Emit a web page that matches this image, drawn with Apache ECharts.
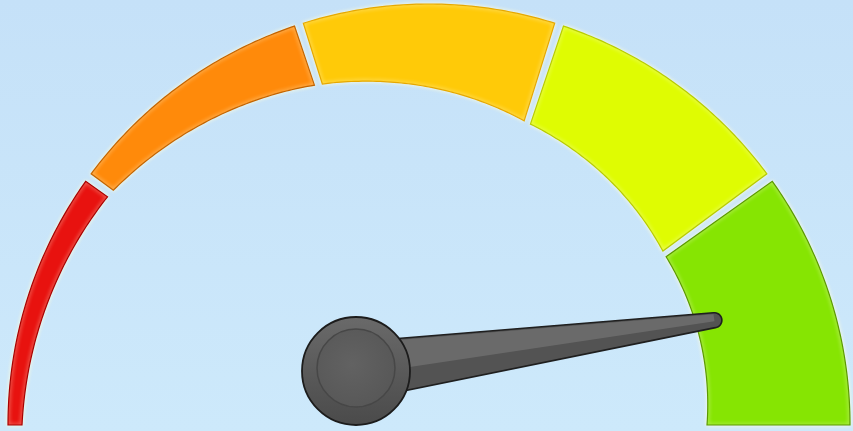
<!DOCTYPE html>
<html>
<head>
<meta charset="utf-8">
<script src="https://cdn.jsdelivr.net/npm/echarts@6/dist/echarts.min.js"></script>
<style>
  html, body { margin: 0; padding: 0; }
  #gauge { width: 853px; height: 431px; }
</style>
</head>
<body>
<div id="gauge"></div>
<script>
// scale data
const bandEdges = [0, 20, 40, 60, 80, 100];
const bandNames = ["red", "orange", "yellow", "lime", "green"];
const needleValue = 88.8;

// look of the dial
const OUTER = 421;                              // outer radius, px
const bandWidths = [14, 27, 63, 103, 130, 143]; // band thickness at each edge
const bandFill = ["#e8120f", "#ff8a0a", "#ffca08", "#dffc02", "#86e502"];
const bandStroke = ["#a80000", "#c46400", "#e6a800", "#b8cc00", "#5b9a00"];
const GAP = 0.35;
const NEEDLE_LEN = 304;
const PIVOT_OFFSET = [-73, -54];

let myChart = echarts.init(document.getElementById("gauge"));

// thickness of the band at a value
function widthAt(v) {
  let j = 0;
  while (j < bandEdges.length - 2 && v > bandEdges[j + 1]) j++;
  let t = (v - bandEdges[j]) / (bandEdges[j + 1] - bandEdges[j]);
  return bandWidths[j] + (bandWidths[j + 1] - bandWidths[j]) * t;
}

function renderBand(params, api) {
  let i = params.dataIndex;
  let last = bandNames.length - 1;
  let s = api.value(0) + (i > 0 ? GAP : 0);
  let e = api.value(1) - (i < last ? GAP : 0);
  let n = 60;
  let pts = [];
  for (let k = 0; k <= n; k++) {
    let v = s + ((e - s) * k) / n;
    pts.push(api.coord([OUTER, v]));
  }
  for (let k = n; k >= 0; k--) {
    let v = s + ((e - s) * k) / n;
    pts.push(api.coord([OUTER - widthAt(v), v]));
  }
  return {
    type: "polygon",
    shape: { points: pts },
    style: {
      fill: bandFill[i],
      stroke: bandStroke[i],
      lineWidth: 1.2,
      shadowBlur: 4,
      shadowColor: "rgba(255,255,225,0.95)",
    },
  };
}

function renderNeedle(params, api) {
  let c = api.coord([0, 0]);
  let p = [c[0] + PIVOT_OFFSET[0], c[1] + PIVOT_OFFSET[1]];
  let t = api.coord([NEEDLE_LEN, api.value(0)]);
  let dx = t[0] - p[0], dy = t[1] - p[1];
  let len = Math.sqrt(dx * dx + dy * dy);
  let d = [dx / len, dy / len];
  let up = [d[1], -d[0]]; // normal pointing up the screen
  let w0 = 29, w1 = 7.5;
  let at = (o, w) => [o[0] + up[0] * w, o[1] + up[1] * w];

  // rounded tip: from the upper side, round the end, to the lower side
  let cap = [];
  for (let k = 0; k <= 16; k++) {
    let a = (Math.PI * k) / 16;
    cap.push([
      t[0] + (up[0] * Math.cos(a) + d[0] * Math.sin(a)) * w1,
      t[1] + (up[1] * Math.cos(a) + d[1] * Math.sin(a)) * w1,
    ]);
  }
  let outline = [at(p, w0)].concat(cap).concat([at(p, -w0)]);

  return {
    type: "group",
    children: [
      {
        type: "polygon",
        shape: { points: outline },
        style: { fill: "#535353", stroke: "#1f1f1f", lineWidth: 1.6 },
      },
      {
        type: "polygon",
        shape: { points: [at(p, w0 - 1.5), at(t, w1 - 1.5), at(t, -1), at(p, -4)] },
        style: { fill: "#6a6a6a" },
      },
      {
        type: "circle",
        shape: { cx: p[0], cy: p[1], r: 54 },
        style: {
          fill: new echarts.graphic.LinearGradient(0, 0, 0, 1, [
            { offset: 0, color: "#6a6a6a" },
            { offset: 1, color: "#4a4a4a" },
          ]),
          stroke: "#1c1c1c",
          lineWidth: 1.8,
        },
      },
      {
        type: "circle",
        shape: { cx: p[0], cy: p[1] - 3, r: 39 },
        style: {
          fill: new echarts.graphic.RadialGradient(0.45, 0.45, 0.6, [
            { offset: 0, color: "#626262" },
            { offset: 1, color: "#575757" },
          ]),
          stroke: "#474747",
          lineWidth: 1.5,
        },
      },
    ],
  };
}

let option = {
  backgroundColor: new echarts.graphic.LinearGradient(0, 0, 0, 1, [
    { offset: 0, color: "#c5e1f8" },
    { offset: 1, color: "#cde9fb" },
  ]),
  animation: false,
  polar: { center: [429, 425], radius: OUTER },
  angleAxis: {
    min: 0,
    max: 200, // 0..100 covers the upper half
    startAngle: 180,
    clockwise: true,
    show: false,
  },
  radiusAxis: { min: 0, max: OUTER, show: false },
  series: [
    {
      type: "custom",
      coordinateSystem: "polar",
      renderItem: renderBand,
      data: bandNames.map((name, i) => ({ name, value: [bandEdges[i], bandEdges[i + 1]] })),
    },
    {
      type: "custom",
      coordinateSystem: "polar",
      renderItem: renderNeedle,
      data: [[needleValue]],
    },
  ],
};

option && myChart.setOption(option);
</script>
</body>
</html>
